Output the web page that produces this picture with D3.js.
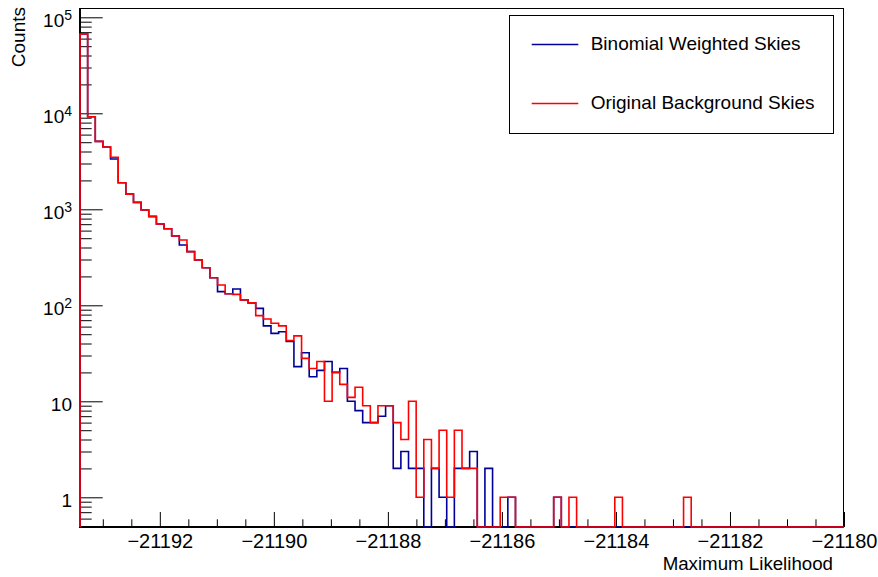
<!DOCTYPE html>
<html><head><meta charset="utf-8">
<script src="https://cdn.jsdelivr.net/npm/d3@7"></script>
<style>body{margin:0;background:#fff;} svg{display:block;font-family:"Liberation Sans",Arial,Helvetica,sans-serif;}</style>
</head><body><svg id="c" width="878" height="577"></svg>
<script>
// ---- data ----
const binLow = -21193.4, binHigh = -21180.0, nBins = 100;
const binomial = [
  67000, 9200, 5100, 4450, 3340, 1890, 1440, 1180, 984, 837,
  703, 628, 527, 425, 362, 296, 246, 194, 139, 132,
  148, 114, 106, 93, 61, 51, 53, 42, 23, 32,
  18, 21, 26, 20, 22, 10, 8, 6, 6, 7,
  9, 2, 3, 2, 2, 0, 2, 1, 0, 2,
  2, 3, 0, 2, 0, 0, 1, 0, 0, 0,
  0, 0, 1, 0, 0, 0, 0, 0, 0, 0,
  0, 0, 0, 0, 0, 0, 0, 0, 0, 0,
  0, 0, 0, 0, 0, 0, 0, 0, 0, 0,
  0, 0, 0, 0, 0, 0, 0, 0, 0, 0];
const original = [
  67000, 9200, 5100, 4450, 3480, 1890, 1440, 1180, 984, 850,
  703, 628, 527, 479, 362, 296, 246, 194, 163, 132,
  130, 114, 106, 78, 72, 65, 61, 43, 48, 28,
  22, 26, 10, 20, 15, 11, 14, 9, 6, 9,
  9, 6, 4, 10, 1, 4, 2, 5, 1, 5,
  2, 2, 0, 0, 0, 1, 1, 0, 0, 0,
  0, 0, 1, 0, 1, 0, 0, 0, 0, 0,
  1, 0, 0, 0, 0, 0, 0, 0, 0, 1,
  0, 0, 0, 0, 0, 0, 0, 0, 0, 0,
  0, 0, 0, 0, 0, 0, 0, 0, 0, 0];
const xTicks = [-21192, -21190, -21188, -21186, -21184, -21182, -21180];
const xMinorStep = 0.5;
const yTicks = [1, 10, 100, 1000, 10000, 100000];
const seriesNames = ["Binomial Weighted Skies", "Original Background Skies"];
const seriesColors = ["#000099", "#ff0000"];
const xTitle = "Maximum Likelihood", yTitle = "Counts";

// ---- layout ----
const L = 80, R = 844, T = 8, B = 527;
const FS = 18.7;
const svg = d3.select("#c");
const x = d3.scaleLinear().domain([binLow, binHigh]).range([L, R]);
const y = d3.scaleLog().domain([0.4906, 125000]).range([B, T]);

svg.append("rect").attr("width", 878).attr("height", 577).attr("fill", "#fff");

svg.append("clipPath").attr("id", "fr").append("rect")
  .attr("x", L - 1).attr("y", T).attr("width", R - L + 1).attr("height", B - T + 1);

// x axis
const xMinor = d3.range(-21193, binHigh + 1e-6, xMinorStep).filter(v => xTicks.indexOf(v) < 0);
const xAxisMinor = d3.axisBottom(x).tickValues(xMinor).tickSize(-7.7).tickSizeOuter(0).tickFormat("");
const xAxis = d3.axisBottom(x).tickValues(xTicks).tickSize(-15).tickSizeOuter(0).tickPadding(7)
  .tickFormat(d => "\u2212" + Math.abs(d));
const gx1 = svg.append("g").attr("transform", `translate(0,${B})`).call(xAxisMinor);
const gx = svg.append("g").attr("transform", `translate(0,${B})`).call(xAxis);
[gx1, gx].forEach(s => { s.select(".domain").remove(); s.selectAll("line").attr("stroke", "#000"); });
gx.selectAll("text").attr("font-size", 20).attr("fill", "#000").attr("font-family", "Liberation Sans, Arial, sans-serif");

// y axis
const yMinor = [];
[0.1, 1, 10, 100, 1000, 10000].forEach(d => { for (let k = 2; k <= 9; k++) { const v = k * d; if (v >= 0.4906 && v <= 125000) yMinor.push(v); } });
const yAxisMinor = d3.axisLeft(y).tickValues(yMinor).tickSize(-11.7).tickSizeOuter(0).tickFormat("");
const yAxis = d3.axisLeft(y).tickValues(yTicks).tickSize(-22.7).tickSizeOuter(0).tickPadding(8).tickFormat("");
const gy1 = svg.append("g").attr("transform", `translate(${L},0)`).call(yAxisMinor);
const gy = svg.append("g").attr("transform", `translate(${L},0)`).call(yAxis);
[gy1, gy].forEach(s => { s.select(".domain").remove(); s.selectAll("line").attr("stroke", "#000"); });
gy.selectAll(".tick text").each(function (d) {
  const t = d3.select(this).attr("font-size", 19).attr("fill", "#000").attr("dy", "0.48em").text(null);
  const e = Math.round(Math.log10(d));
  if (e <= 1) { t.text(String(d)); }
  else {
    t.append("tspan").text("10");
    t.append("tspan").attr("font-size", 14).attr("dy", -7).text(String(e));
  }
});

// frame
svg.append("rect").attr("x", L + 0.5).attr("y", T + 0.5).attr("width", R - L - 1).attr("height", B - T - 1)
  .attr("fill", "none").attr("stroke", "#000").attr("stroke-width", 1);
svg.append("line").attr("x1", L).attr("x2", L).attr("y1", T).attr("y2", B + 1).attr("stroke", "#000").attr("stroke-width", 2);
svg.append("line").attr("x1", L - 1).attr("x2", R).attr("y1", B).attr("y2", B).attr("stroke", "#000").attr("stroke-width", 2);

// histograms (drawn over the frame, like ROOT)
const bw = (binHigh - binLow) / nBins;
function stepPoints(vals) {
  const pts = [[x(binLow), B]];
  vals.forEach((v, i) => {
    const yy = v > 0 ? y(v) : B;
    pts.push([x(binLow + i * bw), yy]);
    pts.push([x(binLow + (i + 1) * bw), yy]);
  });
  pts.push([x(binHigh), B]);
  return pts;
}
const line = d3.line();
const g = svg.append("g").attr("clip-path", "url(#fr)");
[binomial, original].forEach((vals, k) => {
  g.append("path").attr("d", line(stepPoints(vals)))
    .attr("fill", "none").attr("stroke", seriesColors[k]).attr("stroke-width", 1.6)
    .attr("stroke-linejoin", "miter");
});

// titles
svg.append("text").attr("x", 833).attr("y", 570).attr("text-anchor", "end").attr("font-size", FS).text(xTitle);
svg.append("text").attr("transform", "translate(25,7) rotate(-90)").attr("text-anchor", "end").attr("font-size", 19).text(yTitle);

// legend
const lg = svg.append("g");
lg.append("rect").attr("x", 509.5).attr("y", 15.5).attr("width", 324).attr("height", 118)
  .attr("fill", "#fff").attr("stroke", "#000").attr("stroke-width", 1);
const ly = [44.5, 103.5];
seriesNames.forEach((n, i) => {
  lg.append("line").attr("x1", 531.7).attr("x2", 578.3).attr("y1", ly[i]).attr("y2", ly[i])
    .style("stroke", seriesColors[i]).attr("stroke-width", 1.5);
  lg.append("text").attr("x", 590.7).attr("y", ly[i] + 5.5).attr("font-size", 19).text(n);
});
</script></body></html>
